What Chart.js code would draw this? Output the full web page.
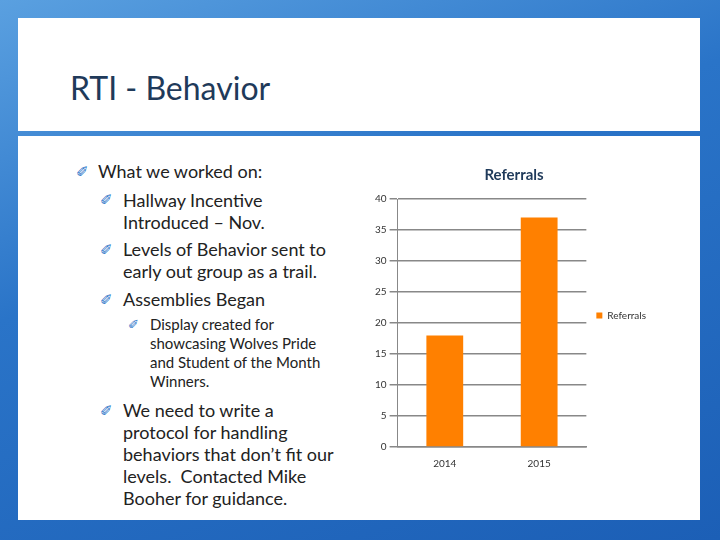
<!DOCTYPE html>
<html><head><meta charset="utf-8">
<script src="https://cdn.jsdelivr.net/npm/chart.js@4"></script>
<style>
body{margin:0;width:720px;height:540px;overflow:hidden;background:linear-gradient(160deg,#5aa0e0 0%,#2a74c8 40%,#1c5fb6 100%);font-family:Lato,"Open Sans",sans-serif;position:relative}
#top{position:absolute;left:18px;top:18px;width:682px;height:113px;background:#fff}
#main{position:absolute;left:18px;top:136px;width:682px;height:384px;background:#fff}
h1{position:absolute;left:70px;top:68px;margin:0;font-weight:normal;font-size:32px;color:#1f3a5a}
.t{position:absolute;color:#222;font-size:18px;line-height:22px}
.b{position:absolute;color:#2a74c8;font-size:15px}
#c{position:absolute;left:360px;top:158px;width:296px;height:315px}
</style></head><body>
<div id="top"></div><div id="main"></div>
<h1>RTI - Behavior</h1>
<span class="b" style="left:76px;top:162px">✐</span><div class="t" style="left:98px;top:160px">What we worked on:</div>
<span class="b" style="left:100px;top:190px">✐</span><div class="t" style="left:123px;top:189px;width:230px">Hallway Incentive<br>Introduced – Nov.</div>
<span class="b" style="left:100px;top:240px">✐</span><div class="t" style="left:123px;top:238px;width:230px">Levels of Behavior sent to<br>early out group as a trail.</div>
<span class="b" style="left:100px;top:290px">✐</span><div class="t" style="left:123px;top:288px">Assemblies Began</div>
<span class="b" style="left:128px;top:316px;font-size:13px">✐</span><div class="t" style="left:150px;top:315px;font-size:15px;line-height:19px">Display created for<br>showcasing Wolves Pride<br>and Student of the Month<br>Winners.</div>
<span class="b" style="left:100px;top:401px">✐</span><div class="t" style="left:123px;top:399px">We need to write a<br>protocol for handling<br>behaviors that don’t fit our<br>levels.&nbsp; Contacted Mike<br>Booher for guidance.</div>
<div id="c"><canvas id="cv"></canvas></div>
<script>
const categories=["2014","2015"];
const referrals=[18,37];
const yTicks=[0,5,10,15,20,25,30,35,40];
new Chart(document.getElementById('cv'),{type:'bar',
data:{labels:categories,datasets:[{label:'Referrals',data:referrals,backgroundColor:'#ff8000',barPercentage:0.39,categoryPercentage:1}]},
options:{responsive:true,maintainAspectRatio:false,animation:false,
layout:{padding:{top:0,bottom:0,left:12}},
plugins:{title:{display:true,text:'Referrals',color:'#1f3a5a',font:{family:'Lato',size:15,weight:'bold'},padding:{top:8,bottom:15}},
legend:{position:'right',labels:{boxWidth:6,boxHeight:6,font:{family:'Lato',size:10},color:'#333'}}},
scales:{y:{min:0,max:40,ticks:{stepSize:5,color:'#333',font:{family:'Lato',size:10}},grid:{color:'#888',lineWidth:1.5},border:{color:'#888'}},
x:{ticks:{color:'#333',font:{family:'Lato',size:10}},grid:{display:false},border:{color:'#888',width:1.5}}}}});
</script></body></html>
